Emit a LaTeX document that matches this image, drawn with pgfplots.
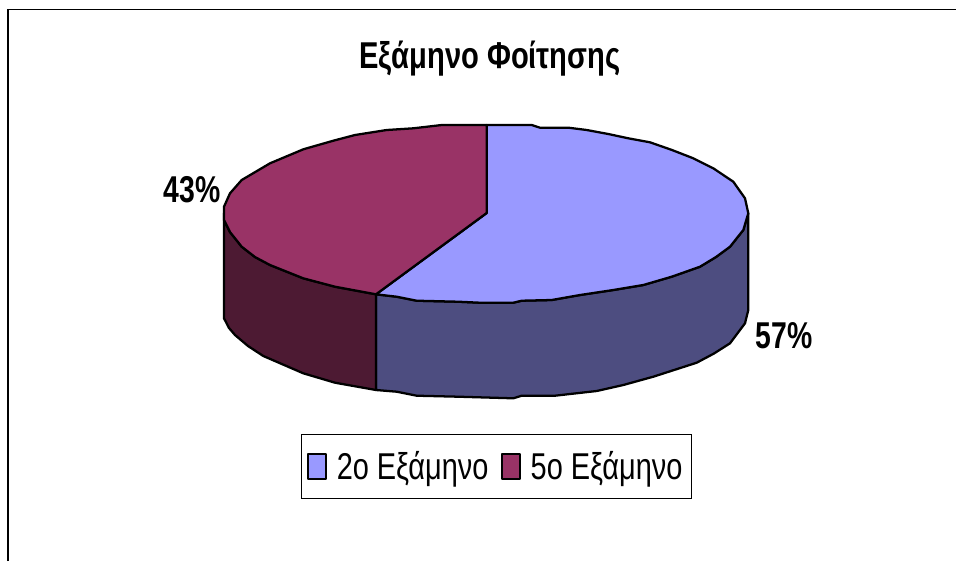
\documentclass[border=0pt]{standalone}
\usepackage{pgfplots}
\pgfplotsset{compat=1.18}
\usepackage{fontspec}
\setmainfont{Liberation Sans}
\definecolor{cA}{HTML}{9999FF}
\definecolor{cB}{HTML}{993366}
\definecolor{cAd}{HTML}{4D4D80}
\definecolor{cBd}{HTML}{4D1A33}
\pgfplotsset{slice/.style={draw=black,line width=1.7pt,line join=round}}
\begin{document}
\begin{tikzpicture}
\begin{axis}[
  scale only axis,width=717.75pt,height=421.5pt,
  xmin=0,xmax=957,ymin=0,ymax=562,y dir=reverse,
  hide axis,clip=false,
  legend columns=2,
  legend cell align=left,
  legend style={at={(axis cs:496.5,466.5)},anchor=center,draw=black,line width=0.8pt,
    fill=white,inner xsep=4pt,inner ysep=10.5pt,
    font=\fontsize{28}{30}\selectfont,
    /tikz/every even column/.append style={column sep=6pt},
    nodes={inner xsep=3pt,inner ysep=2pt}},
  legend image code/.code={\draw[#1,line width=1.5pt] (0cm,-0.32cm) rectangle (0.48cm,0.32cm);},
]
\path (axis cs:0,0) -- (axis cs:957,562);
% side walls
\addplot[slice,fill=cAd,forget plot] coordinates {
 (376,294.3)(396.7,296.7)(416.7,300.7)(458.3,301.7)(480,302.7)(513.3,302.7)(521.7,300.7)(551.7,300)(580,295)(613.3,290)(643.3,285)(671.7,276.7)(700,266.7)(716,257)(730,246.7)(743.3,230)(748.3,213.3)
 (748.3,310)(745,323.3)(730,343.3)(714,353.5)(696.7,362.7)(653.3,376.7)(623.3,385)(596.7,391)(555,395.7)(521.7,395.7)(513.3,398.3)(458.3,396.7)(416.7,395.7)(396.7,391.7)(376,390)} --cycle;
\addplot[slice,fill=cBd,forget plot] coordinates {
 (224,213)(224,220)(230,232)(241.7,246.7)(255,257)(270,265)(303.3,278.3)(335,286.7)(376,294.3)
 (376,390)(335,382.7)(303.3,373.3)(263.3,356)(248,346)(235,335)(229,328)(224,318.3)} --cycle;
% top faces
\addplot[slice,fill=cA] coordinates {
 (486.7,213)(486.7,125)(531.7,125)(540,127.7)(568.3,127.7)(586.7,130)(608.3,134)(628.3,138.3)(650,142.3)(672,150)(693.3,158.3)(713.3,168.3)(733.3,181.7)(745,198.3)(748.3,213.3)
 (743.3,230)(730,246.7)(716,257)(700,266.7)(671.7,276.7)(643.3,285)(613.3,290)(580,295)(551.7,300)(521.7,300.7)(513.3,302.7)(480,302.7)(458.3,301.7)(416.7,300.7)(396.7,296.7)(376,294.3)} --cycle;
\addlegendentry{\hspace{4.5pt}\scalebox{0.775}[1]{2o Εξάμηνο}}
\addplot[slice,fill=cB] coordinates {
 (486.7,213)(486.7,125)(441.7,125)(413.3,128.3)(386.7,130)(355,135)(333.3,140.7)(303.3,149.3)(270,163.3)(241.7,180)(230,193.3)(224,206.7)(224,220)(230,232)(241.7,246.7)(255,257)(270,265)(303.3,278.3)(335,286.7)(376,294.3)} --cycle;
\addlegendentry{\hspace{4.5pt}\scalebox{0.775}[1]{5o Εξάμηνο}}
% chart frame
\draw[black,line width=1.3pt] (axis cs:8,561)--(axis cs:8,9.5)--(axis cs:956,9.5);
% texts
\node[font=\fontsize{28}{30}\bfseries\selectfont,anchor=center] at (axis cs:490,59) {\scalebox{0.78}[1]{Εξάμηνο Φοίτησης}};
\node[font=\fontsize{28}{30}\bfseries\selectfont,anchor=center] at (axis cs:192,190) {\scalebox{0.76}[1]{43\%}};
\node[font=\fontsize{28}{30}\bfseries\selectfont,anchor=center] at (axis cs:784,336) {\scalebox{0.76}[1]{57\%}};
\end{axis}
\end{tikzpicture}
\end{document}
